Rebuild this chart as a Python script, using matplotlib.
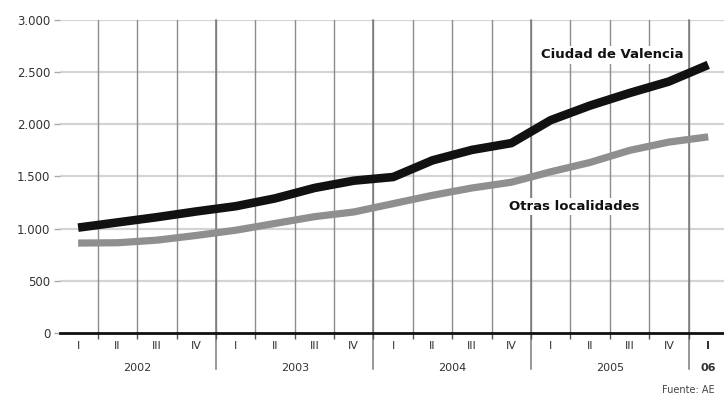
"""plot.py: Evolución trimestral, Ciudad de Valencia vs. otras localidades
"""

import matplotlib.pyplot as plt
import numpy as np

plt.rcParams['font.family'] = ['Liberation Sans Narrow', 'DejaVu Sans']

## datos (2002-I a 2006-I)
trimestres = ["I", "II", "III", "IV"] * 4 + ["I"]
anios = ["2002", "2003", "2004", "2005", "06"]
valencia = [1010, 1060, 1110, 1165, 1215, 1290, 1390, 1460, 1495,
            1655, 1755, 1820, 2040, 2180, 2300, 2410, 2570]
otras = [862, 865, 890, 935, 985, 1050, 1115, 1160, 1240,
         1320, 1390, 1445, 1545, 1635, 1750, 1830, 1880]
valoresY = [0, 500, 1000, 1500, 2000, 2500, 3000]

fig = plt.figure(figsize=(7.24, 3.97), dpi=100)
ax = fig.add_axes([60 / 724, 1 - 333 / 397, 664 / 724, 313 / 397])

x = np.arange(len(valencia))

# rejilla
for v in valoresY[1:]:
    ax.axhline(v, color="#d4d4d4", lw=1.6, zorder=0)
limites = np.arange(len(valencia) - 1) + 0.5
for b in limites:
    ax.axvline(b, color="#8c8c8c", lw=1.0, zorder=1)

# separadores de año, bajan hasta la fila de los años
for b in [3.5, 7.5, 11.5, 15.5]:
    ax.plot([b, b], [-0.115, 1.0], transform=ax.get_xaxis_transform(),
            color="#7a7a7a", lw=1.1, clip_on=False, zorder=1)

ax.plot(x, otras, color="#8f8f8f", lw=5.2, solid_capstyle="butt",
        solid_joinstyle="round", zorder=3)
ax.plot(x, valencia, color="#111111", lw=6.2, solid_capstyle="butt",
        solid_joinstyle="round", zorder=4)

ax.set_xlim(-0.46, 16.4)
ax.set_ylim(0, 3000)

for s in ["top", "right", "left"]:
    ax.spines[s].set_visible(False)
ax.spines["bottom"].set_linewidth(2.0)
ax.spines["bottom"].set_color("#111111")

ax.set_yticks(valoresY)
ax.set_yticklabels([f"{v:,}".replace(",", ".") for v in valoresY])
ax.tick_params(axis="y", length=4, width=1, color="#aaaaaa", pad=3,
               labelsize=8.5, labelcolor="#333333")

ax.set_xticks([])
ax.set_xticks(limites, minor=True)
ax.tick_params(axis="x", which="minor", length=4, width=1, color="#555555")

# etiquetas de trimestre y año
for i, t in enumerate(trimestres):
    peso = "bold" if i == len(trimestres) - 1 else "normal"
    ax.text(i, -0.04, t, transform=ax.get_xaxis_transform(), ha="center",
            va="center", fontsize=8, color="#333333", fontweight=peso)
centros = [1.5, 5.5, 9.5, 13.5, 16]
for c, a in zip(centros, anios):
    peso = "bold" if a == "06" else "normal"
    ax.text(c, -0.112, a, transform=ax.get_xaxis_transform(), ha="center",
            va="center", fontsize=8, color="#333333", fontweight=peso)

# nombres de las series
ax.text(13.55, 2665, "Ciudad de Valencia", ha="center", va="center", fontsize=9.5,
        fontweight="bold", color="#111111", zorder=5,
        bbox=dict(facecolor="white", edgecolor="none", pad=1.5))
ax.text(12.6, 1210, "Otras localidades", ha="center", va="center", fontsize=9.5,
        fontweight="bold", color="#111111", zorder=5,
        bbox=dict(facecolor="white", edgecolor="none", pad=1.5))

fig.text(662 / 724, 1 - 390 / 397, "Fuente: AE", fontsize=7, color="#444444",
         va="center")

fig.savefig("out.png", dpi=100)
